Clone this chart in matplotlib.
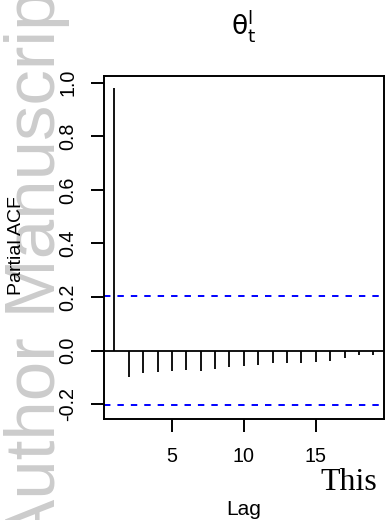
import numpy as np
import matplotlib
matplotlib.use('Agg')
import matplotlib.pyplot as plt

plt.rcParams['font.family'] = ['Liberation Sans', 'DejaVu Sans']
plt.rcParams['mathtext.fontset'] = 'dejavusans'

# partial autocorrelations
lags = list(range(1, 20))
pacf = [0.979, -0.097, -0.085, -0.078, -0.075, -0.073, -0.076, -0.070, -0.062,
        -0.058, -0.052, -0.046, -0.047, -0.045, -0.042, -0.038, -0.029, -0.017, -0.018]
ci = 0.204
xticks = [5, 10, 15]
yticks = [-0.2, 0.0, 0.2, 0.4, 0.6, 0.8, 1.0]

W, H = 385, 520
fig = plt.figure(figsize=(W / 100, H / 100), dpi=100)

# faint watermark from the page behind
fig.text(55 / W, 1 - 546 / H, 'Author Manuscript', rotation=90, rotation_mode='anchor',
         ha='left', va='baseline', fontsize=51, color='#cccccc', zorder=-5)

ax = fig.add_axes([104 / W, 1 - 419 / H, (383.7 - 104) / W, (419 - 76) / H])
ax.set_facecolor('none')

ax.vlines(lags, 0, pacf, color='black', lw=1.3)
ax.axhline(0, color='black', lw=1.3)
for c in (ci, -ci):
    ax.axhline(c, color='blue', lw=1.4, linestyle=(0, (3.3, 3.6)))

ax.set_xlim(0.28, 19.72)
ax.set_ylim(-0.255, 1.025)
ax.set_xticks(xticks)
ax.set_yticks(yticks)
ax.set_yticklabels(['%.1f' % v for v in yticks])
for s in ax.spines.values():
    s.set_linewidth(1.4)
ax.tick_params(length=9.4, width=1.4, labelsize=14.2, pad=10.5)
ax.tick_params(axis='y', labelrotation=90, pad=10)
for lab in ax.get_yticklabels():
    lab.set_va('center')

fig.text(244 / W, 1 - 35 / H, r'$\mathrm{\theta}_{\mathrm{t}}^{\mathrm{l}}$',
         ha='center', va='baseline', fontsize=19)
fig.text(17 / W, 1 - 246 / H, 'Partial ACF', rotation=90, ha='center', va='center',
         fontsize=14)
fig.text(244 / W, 1 - 515 / H, 'Lag', ha='center', va='baseline', fontsize=15)

fig.text(320 / W, 1 - 490 / H, 'This', ha='left', va='baseline', fontsize=23,
         family=['Liberation Serif', 'DejaVu Serif'])

fig.savefig('out.png', dpi=100)
